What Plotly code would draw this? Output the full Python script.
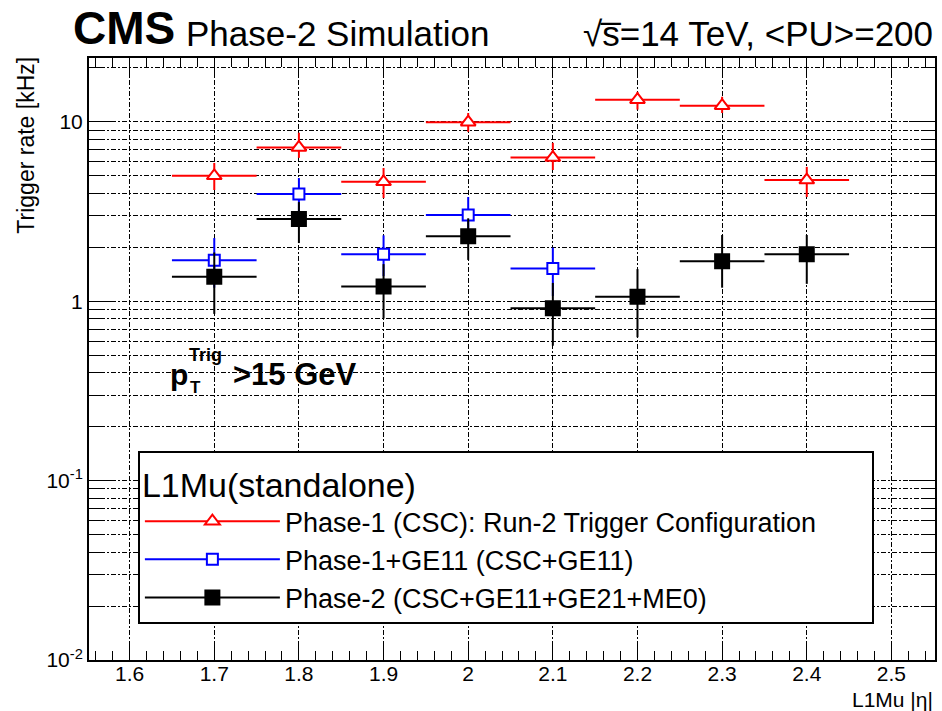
import plotly.graph_objects as go

# ---------------- data ----------------
eta = [1.7, 1.8, 1.9, 2.0, 2.1, 2.2, 2.3, 2.4]
eta_half_bin = [0.05, 0.05, 0.05, 0.05, 0.05, 0.05, 0.05, 0.05]

phase1_rate = [5.0, 7.2, 4.63, 9.96, 6.32, 13.3, 12.3, 4.74]
phase1_err_up = [0.9, 1.5, 0.9, 1.24, 1.32, 1.4, 1.5, 0.87]
phase1_err_dn = [0.83, 0.9, 0.87, 1.16, 0.93, 1.6, 1.1, 0.93]

ge11_eta = [1.7, 1.8, 1.9, 2.0, 2.1]
ge11_half_bin = [0.05, 0.05, 0.05, 0.05, 0.05]
ge11_rate = [1.69, 3.96, 1.83, 3.03, 1.52]
ge11_err_up = [0.56, 0.9, 0.5, 0.78, 0.47]
ge11_err_dn = [0.5, 0.8, 0.45, 0.7, 0.45]

phase2_rate = [1.37, 2.87, 1.21, 2.30, 0.915, 1.06, 1.67, 1.83]
phase2_err_up = [0.5, 0.7, 0.4, 0.6, 0.35, 0.45, 0.67, 0.51]
phase2_err_dn = [0.52, 0.76, 0.41, 0.6, 0.35, 0.43, 0.48, 0.58]

x_ticks = [1.6, 1.7, 1.8, 1.9, 2.0, 2.1, 2.2, 2.3, 2.4, 2.5]
x_ticktext = ["1.6", "1.7", "1.8", "1.9", "2", "2.1", "2.2", "2.3", "2.4", "2.5"]
x_minor = [round(1.56 + 0.02 * i, 2) for i in range(50)]
y_ticks = [0.01, 0.1, 1, 10]
y_ticktext = ["10<sup>-2</sup>", "10<sup>-1</sup>", "1", "10"]
y_minor = [m * d for d in (0.01, 0.1, 1, 10) for m in range(2, 10)]

legend_title = "L1Mu(standalone)"
series_names = [
    "Phase-1 (CSC): Run-2 Trigger Configuration",
    "Phase-1+GE11 (CSC+GE11)",
    "Phase-2 (CSC+GE11+GE21+ME0)",
]

# ---------------- layout helpers ----------------
W, H = 942, 711
L, R, T, B = 89, 937, 58, 660
PW, PH = R - L, B - T


def px(x):
    return (x - L) / PW


def py(y):
    return (B - y) / PH


FONT = "Liberation Sans, Arial, Helvetica, sans-serif"
GRID_DASH = "5px,2px,2px,2px"

fig = go.Figure()


def add_series(x, xe, y, eu, ed, color, symbol, size, fill, name, group):
    fig.add_trace(go.Scatter(
        x=x, y=y, mode="markers", showlegend=False,
        marker=dict(symbol=symbol, size=size, color=fill,
                    line=dict(color=color, width=2)),
        error_x=dict(type="data", array=xe, symmetric=True, width=0,
                     color=color, thickness=2),
        error_y=dict(type="data", array=eu, arrayminus=ed, symmetric=False,
                     width=0, color=color, thickness=2),
        legendgroup=group,
    ))
    # legend entry (line + marker), no data of its own
    fig.add_trace(go.Scatter(
        x=[None], y=[None], mode="lines+markers", name=name,
        line=dict(color=color, width=2),
        marker=dict(symbol=symbol, size=size, color=fill,
                    line=dict(color=color, width=2)),
        legendgroup=group,
    ))


add_series(eta, eta_half_bin, phase1_rate, phase1_err_up, phase1_err_dn,
           "#ff0000", "triangle-up", 13, "white", series_names[0], "g1")
add_series(ge11_eta, ge11_half_bin, ge11_rate, ge11_err_up, ge11_err_dn,
           "#0000ff", "square", 11, "white", series_names[1], "g2")
add_series(eta, eta_half_bin, phase2_rate, phase2_err_up, phase2_err_dn,
           "#000000", "square", 14, "black", series_names[2], "g3")

# trailing no-break spaces widen the legend box to the reference's width
legend_title_padded = legend_title + "\u00a0" * 48

fig.update_layout(
    width=W, height=H,
    margin=dict(l=L, r=W - R, t=T, b=H - B, pad=0),
    paper_bgcolor="white", plot_bgcolor="white",
    font=dict(family=FONT, color="black"),
    showlegend=True,
    legend=dict(
        x=px(138), y=py(451), xanchor="left", yanchor="top",
        bgcolor="white", bordercolor="black", borderwidth=2,
        font=dict(size=27, family=FONT),
        title=dict(text=legend_title_padded, font=dict(size=34, family=FONT), side="top"),
        itemwidth=135, tracegroupgap=0,
    ),
    xaxis=dict(
        range=[1.552, 2.5515], showline=True, linecolor="black", linewidth=2,
        mirror="allticks", ticks="inside", ticklen=18, tickwidth=1, tickcolor="black",
        tickmode="array", tickvals=x_ticks, ticktext=x_ticktext,
        tickfont=dict(size=21, family=FONT), ticklabelstandoff=-6,
        showgrid=True, gridcolor="black", gridwidth=1, griddash=GRID_DASH,
        zeroline=False,
        minor=dict(tickvals=x_minor, ticks="inside", ticklen=9, tickcolor="black",
                   tickwidth=1, showgrid=False),
    ),
    yaxis=dict(
        type="log", range=[-2, 1.356], showline=True, linecolor="black", linewidth=2,
        mirror="allticks", ticks="inside", ticklen=26, tickwidth=1, tickcolor="black",
        tickmode="array", tickvals=y_ticks, ticktext=y_ticktext,
        tickfont=dict(size=21, family=FONT),
        showgrid=True, gridcolor="black", gridwidth=1, griddash=GRID_DASH,
        zeroline=False,
        minor=dict(tickvals=y_minor, ticks="inside", ticklen=13, tickcolor="black",
                   tickwidth=1, showgrid=True, gridcolor="black", gridwidth=1,
                   griddash=GRID_DASH),
    ),
)

ann = []
ann.append(dict(text="<b>CMS</b>", x=px(71), y=py(28), xanchor="left", yanchor="middle",
                font=dict(size=46, family=FONT)))
ann.append(dict(text="Phase-2 Simulation", x=px(184), y=py(34), xanchor="left", yanchor="middle",
                font=dict(size=35, family=FONT)))
ann.append(dict(text="\u221as\u0305=14 TeV, <PU>=200", x=px(937), y=py(34), xanchor="right",
                yanchor="middle", font=dict(size=35, family=FONT)))
ann.append(dict(text="Trigger rate [kHz]", x=px(25), y=py(55), xanchor="center", yanchor="top",
                textangle=-90, font=dict(size=23, family=FONT)))
ann.append(dict(text="L1Mu |\u03b7|", x=px(937), y=py(699), xanchor="right", yanchor="middle",
                font=dict(size=21, family=FONT)))
ann.append(dict(text="<b>p</b>", x=px(168), y=py(375), xanchor="left", yanchor="middle",
                font=dict(size=30, family=FONT)))
ann.append(dict(text="<b>Trig</b>", x=px(187), y=py(355), xanchor="left", yanchor="middle",
                font=dict(size=18, family=FONT)))
ann.append(dict(text="<b>T</b>", x=px(188), y=py(388), xanchor="left", yanchor="middle",
                font=dict(size=17, family=FONT)))
ann.append(dict(text="<b>>15 GeV</b>", x=px(231), y=py(375), xanchor="left", yanchor="middle",
                font=dict(size=31, family=FONT)))
for a in ann:
    a.update(xref="paper", yref="paper", showarrow=False)
fig.update_layout(annotations=ann)

fig.write_html("out.html")
